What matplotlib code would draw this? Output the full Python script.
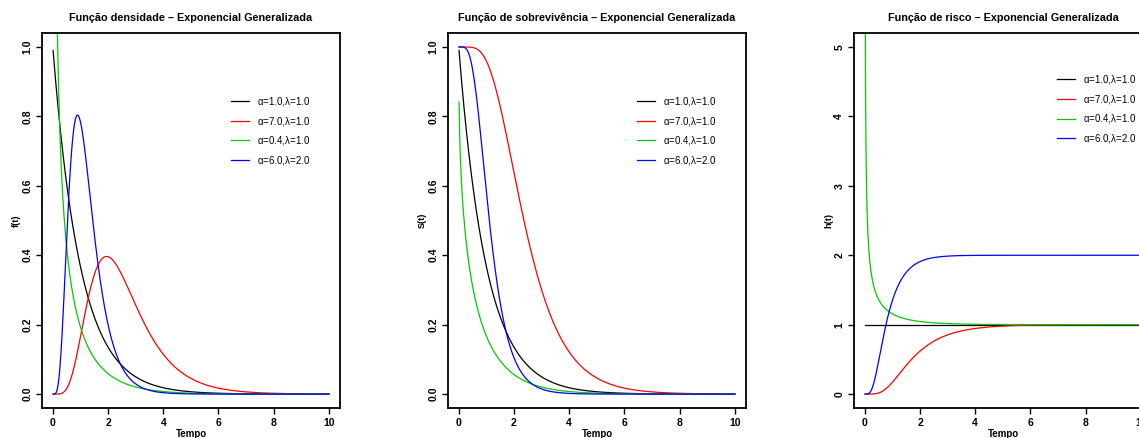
import numpy as np
import matplotlib.pyplot as plt

# parameters of the generalized exponential curves
alphas = [1.0, 7.0, 0.4, 6.0]
lambdas = [1.0, 1.0, 1.0, 2.0]
colors = ['black', 'red', '#00cc00', 'blue']
labels = [r'$\alpha$=%.1f,$\lambda$=%.1f' % (a, l) for a, l in zip(alphas, lambdas)]

titles = ['Função densidade – Exponencial Generalizada',
          'Função de sobrevivência – Exponencial Generalizada',
          'Função de risco – Exponencial Generalizada']
ylabels = ['f(t)', 'S(t)', 'h(t)']
ytick_sets = [[0.0, 0.2, 0.4, 0.6, 0.8, 1.0],
              [0.0, 0.2, 0.4, 0.6, 0.8, 1.0],
              [0, 1, 2, 3, 4, 5]]
ytick_fmt = ['%.1f', '%.1f', '%d']
ylims = [(0, 1), (0, 1), (0, 5)]
xticks = [0, 2, 4, 6, 8, 10]

t = np.linspace(0.01, 10, 1000)


def dens(a, l):
    return a * l * (1 - np.exp(-l * t)) ** (a - 1) * np.exp(-l * t)


def surv(a, l):
    return 1 - (1 - np.exp(-l * t)) ** a


def risk(a, l):
    return dens(a, l) / surv(a, l)


funcs = [dens, surv, risk]

plt.rcParams['font.family'] = ['Liberation Sans', 'DejaVu Sans']
plt.rcParams['mathtext.fontset'] = 'custom'
plt.rcParams['mathtext.rm'] = 'Liberation Sans'
plt.rcParams['mathtext.it'] = 'Liberation Sans'

fig = plt.figure(figsize=(11.39, 4.38), dpi=100)
lefts = [0.0369, 0.3933, 0.7498]
legend_pos = [(0.635, 0.835), (0.635, 0.835), (0.682, 0.893)]

for i in range(3):
    ax = fig.add_axes([lefts[i], 0.0685, 0.2616, 0.856])
    for a, l, c, lab in zip(alphas, lambdas, colors, labels):
        ax.plot(t, funcs[i](a, l), color=c, lw=0.9, label=lab)
    lo, hi = ylims[i]
    pad = (hi - lo) * 0.04
    ax.set_ylim(lo - pad, hi + pad)
    ax.set_xlim(0.01 - 9.99 * 0.04, 10 + 9.99 * 0.04)
    ax.set_xticks(xticks)
    ax.set_xticklabels([str(x) for x in xticks], fontsize=7.5, fontweight='bold')
    ax.set_yticks(ytick_sets[i])
    ax.set_yticklabels([ytick_fmt[i] % v for v in ytick_sets[i]], fontsize=7.5,
                       fontweight='bold', rotation=90, va='center')
    ax.tick_params(length=4, width=1, pad=3)
    for s in ax.spines.values():
        s.set_linewidth(1.3)
    ax.set_title(titles[i], fontsize=7.8, fontweight='bold', pad=9)
    ax.set_xlabel('Tempo', fontsize=7, fontweight='bold', labelpad=1)
    ax.set_ylabel(ylabels[i], fontsize=6.5, fontweight='bold', labelpad=1)
    ax.legend(loc='upper left', bbox_to_anchor=legend_pos[i], frameon=False,
              fontsize=7, handlelength=1.85, handletextpad=0.8, labelspacing=0.68,
              borderpad=0, borderaxespad=0)

fig.savefig('out.png', dpi=100)
